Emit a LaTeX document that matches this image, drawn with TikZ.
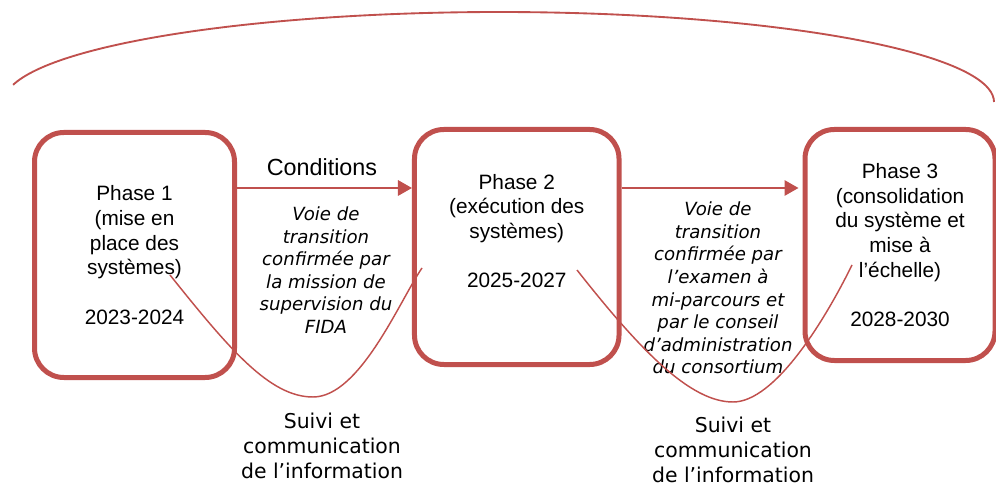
\documentclass[tikz,border=0pt]{standalone}
\usepackage{fontspec}
\setmainfont{Liberation Sans}
\newfontfamily\verdanafont{DejaVu Sans}
\usetikzlibrary{
  positioning,
  calc,
  arrows.meta
}
\definecolor{phasered}{HTML}{C0504D}

\begin{document}
\begin{tikzpicture}[
      x=0.75pt, y=-0.75pt,
      phase/.style={rectangle, draw=phasered, line width=3.75pt, rounded corners=22pt, align=center, inner sep=0pt, font=\fontsize{15.6}{18.5}\selectfont},
      arrow/.style={-{Triangle[length=10.5pt, width=11.5pt]}, draw=phasered, line width=1.5pt},
      link/.style={draw=phasered, line width=1.1pt},
      via/.style={align=center, font=\verdanafont\itshape\fontsize{13.6}{16.9}\selectfont},
      suivi/.style={align=center, inner sep=1pt, font=\verdanafont\fontsize{15.3}{18.8}\selectfont}
    ]
      \useasboundingbox (0,0) rectangle (996,488);

      % Three phases
      \node[phase, minimum width=150pt, minimum height=183.75pt] (p1) at (134.5,255) {Phase 1\\(mise en\\place des\\systèmes)\\[18.5pt]2023-2024};
      \node[phase, minimum width=153.4pt, minimum height=176.25pt] (p2) at (516.75,247) {Phase 2\\(exécution des\\systèmes)\\[18.5pt]2025-2027\\\strut};
      \node[phase, minimum width=142.5pt, minimum height=173.25pt] (p3) at (900,245) {Phase 3\\(consolidation\\du système et\\mise à\\l’échelle)\\[18.5pt]2028-2030};

      % Transitions
      \draw[arrow] (p1.east |- 0,188) -- (p2.west |- 0,188);
      \draw[arrow, shorten >=3pt] (p2.east |- 0,188) -- (p3.west |- 0,188);

      % Labels
      \node[font=\fontsize{17.5}{20}\selectfont] (cond) at (322,167) {Conditions};
      \node[via] (via1) at (326,270) {Voie de\\transition\\confirmée par\\la mission de\\supervision du\\FIDA};
      \node[via] (via2) at (718,288) {Voie de\\transition\\confirmée par\\l’examen à\\mi-parcours et\\par le conseil\\d’administration\\du consortium};
      \node[suivi] (suivi1) at (322,446) {Suivi et\\communication\\de l’information};
      \node[suivi] (suivi2) at (733,450) {Suivi et\\communication\\de l’information};

      % Monitoring loops
      \draw[link] (170,275) .. controls (230,350) and (270,397) .. (313,397)
                            .. controls (360,397) and (400,300) .. (422,268);
      \draw[link] (577,270) .. controls (640,350) and (690,402) .. (733,402)
                            .. controls (775,402) and (825,320) .. (852,265);

      % Overall arc
      \draw[link, line width=1.4pt] plot[domain=169:0, samples=80, smooth] ({499+495*cos(\x)}, {102-90*sin(\x)});
    \end{tikzpicture}
\end{document}
